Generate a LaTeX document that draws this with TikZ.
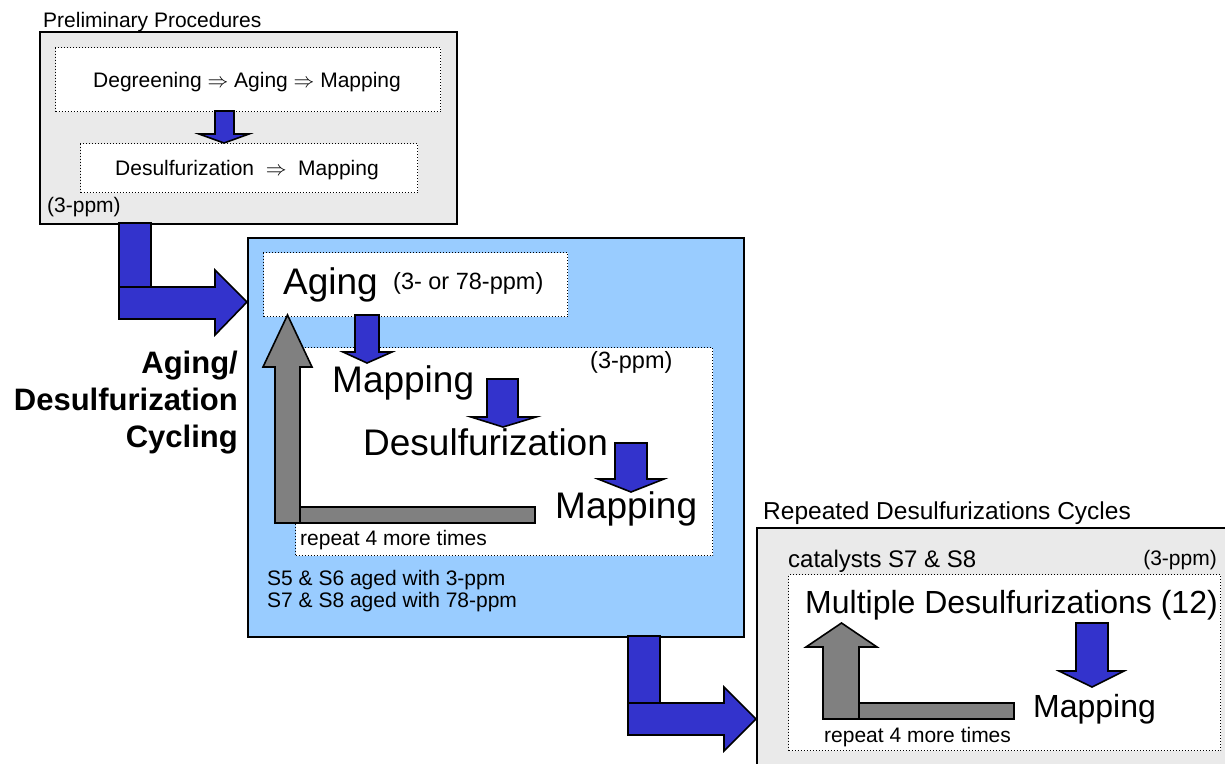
\documentclass[tikz,border=0pt]{standalone}
\usepackage{fontspec}
\setmainfont{Liberation Sans}
\definecolor{arrowblue}{HTML}{3333CC}
\definecolor{boxblue}{HTML}{99CCFF}
\definecolor{boxgray}{HTML}{EAEAEA}
\definecolor{arrowgray}{HTML}{808080}
\newcommand{\setfs}[1]{\fontsize{#1}{#1}\selectfont}
\tikzset{
  outerbox/.style={draw=black, line width=1.8pt, inner sep=0pt, anchor=north west},
  dotbox/.style={draw=black, dotted, line width=1pt, fill=white, inner sep=0pt, anchor=north west},
  barrow/.style={fill=arrowblue, draw=black, line width=1.6pt},
  garrow/.style={fill=arrowgray, draw=black, line width=1.6pt},
  txt/.style={inner sep=0pt, anchor=base west},
  txtc/.style={inner sep=0pt, anchor=base},
  txte/.style={inner sep=0pt, anchor=base east},
}
\begin{document}
\begin{tikzpicture}[x=1pt,y=-1pt]
\useasboundingbox (0,0) rectangle (1225,763);
\clip (0,0) rectangle (1225,763);

% ---------- Preliminary box ----------
\node[txt] (prelimtitle) at (43,27) {\setfs{21}Preliminary Procedures};
\node[outerbox, fill=boxgray, minimum width=417pt, minimum height=192pt] (prelim) at (39,31) {};
\node[dotbox, minimum width=385pt, minimum height=64pt] (pbox1) at (55,47) {};
\node[dotbox, minimum width=337pt, minimum height=49pt] (pbox2) at (80,143) {};
\node[txtc] (ptext1) at (247,87) {\setfs{21}Degreening $\Rightarrow$ Aging $\Rightarrow$ Mapping};
\node[txtc] (ptext2) at (247,175) {\setfs{21}Desulfurization \ $\Rightarrow$ \ Mapping};
\node[txt] (pppm) at (47,212) {\setfs{21}(3-ppm)};
\draw[barrow] (215,111) -- (234,111) -- (234,134) -- (249,134) -- (224,143) -- (199,134) -- (215,134) -- cycle;

% ---------- L arrow 1 ----------
\draw[barrow] (119,223) rectangle (151,287);
\draw[barrow] (119,287) -- (215,287) -- (215,270) -- (247,302) -- (215,335) -- (215,319) -- (119,319) -- cycle;

% ---------- Side title ----------
\node[txte] (side1) at (238,373) {\setfs{31}\bfseries Aging/};
\node[txte] (side2) at (238,410) {\setfs{31}\bfseries Desulfurization};
\node[txte] (side3) at (238,447) {\setfs{31}\bfseries Cycling};

% ---------- Blue box ----------
\node[outerbox, fill=boxblue, minimum width=496pt, minimum height=399pt] (bluebox) at (247,237) {};
\node[dotbox, minimum width=304pt, minimum height=64pt] (agingbox) at (263,252) {};
\node[txt] (agingtxt) at (283,294) {\setfs{37}Aging};
\node[txt] (agingppm) at (393,289) {\setfs{23.5}(3- or 78-ppm)};
\node[dotbox, minimum width=417pt, minimum height=208pt] (cyclebox) at (295,347) {};
\node[txt] (cycleppm) at (590,368) {\setfs{23.5}(3-ppm)};
\node[txt] (map1) at (332,392) {\setfs{37}Mapping};
\node[txt] (desulf) at (363,455) {\setfs{37}Desulfurization};
\node[txt] (map2) at (555,518) {\setfs{37}Mapping};
\node[txt] (repeat1) at (300,545) {\setfs{21}repeat 4 more times};
\node[txt] (s56) at (267,585) {\setfs{21}S5 \& S6 aged with 3-ppm};
\node[txt] (s78) at (267,607) {\setfs{21}S7 \& S8 aged with 78-ppm};

% gray return arrow
\draw[garrow] (275,523) -- (275,367) -- (263,367) -- (287.5,315) -- (312,367) -- (300,367) -- (300,523) -- cycle;
\draw[garrow] (300,507) rectangle (535,523);

% blue step arrows
\draw[barrow] (355,315) -- (379,315) -- (379,352) -- (392,352) -- (367,363) -- (343,352) -- (355,352) -- cycle;
\draw[barrow] (487,379) -- (518,379) -- (518,417) -- (536,417) -- (503,427) -- (471,417) -- (487,417) -- cycle;
\draw[barrow] (615,443) -- (647,443) -- (647,479) -- (664,479) -- (631,492) -- (598,479) -- (615,479) -- cycle;

% ---------- L arrow 2 ----------
\draw[barrow] (628,636) rectangle (660,703);
\draw[barrow] (628,703) -- (724,703) -- (724,687) -- (756,719) -- (724,751) -- (724,735) -- (628,735) -- cycle;

% ---------- Box 3 ----------
\node[txt] (rtitle) at (763,519) {\setfs{24.5}Repeated Desulfurizations Cycles};
\node[outerbox, fill=boxgray, minimum width=500pt, minimum height=260pt] (rbox) at (756,527) {};
\node[txt] (catal) at (788,567) {\setfs{24}catalysts S7 \& S8};
\node[txte] (rppm) at (1217,565) {\setfs{21}(3-ppm)};
\node[dotbox, minimum width=432pt, minimum height=176pt] (rinner) at (788,574) {};
\node[txt] (multi) at (805,613) {\setfs{32}Multiple Desulfurizations (12)};
\node[txt] (rmap) at (1033,717) {\setfs{32}Mapping};
\node[txt] (repeat2) at (824,742) {\setfs{21}repeat 4 more times};
\draw[garrow] (823,719) -- (823,647) -- (806,647) -- (841.5,623) -- (877,647) -- (859,647) -- (859,719) -- cycle;
\draw[garrow] (859,703) rectangle (1014,719);
\draw[barrow] (1076,623) -- (1108,623) -- (1108,671) -- (1124,671) -- (1092,687) -- (1059,671) -- (1076,671) -- cycle;
\end{tikzpicture}
\end{document}
